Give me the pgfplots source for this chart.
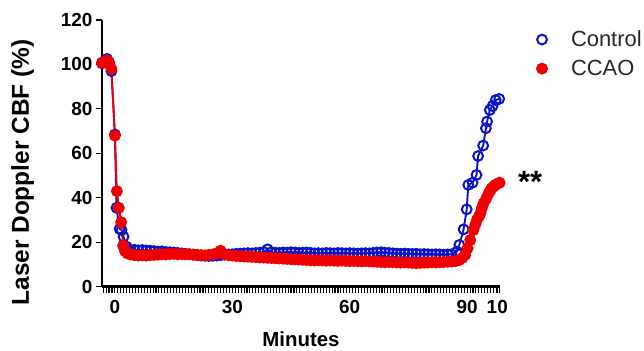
\documentclass[border=0pt]{standalone}
\usepackage{pgfplots}
\pgfplotsset{compat=1.18}
\usepackage{fontspec}
\setmainfont{Liberation Sans}
\definecolor{ctrlblue}{RGB}{10,20,200}
\definecolor{ccaored}{RGB}{240,0,0}
\begin{document}
\begin{tikzpicture}
\begin{axis}[
  scale only axis, width=398bp, height=266.7bp,
  xmin=-3.3, xmax=98.4, ymin=0, ymax=120,
  axis lines=left,
  axis line style={-, line width=2.5bp, black},
  clip=false,
  xtick={0,30,60,90,97.7}, xticklabels={0,30,60,90,10},
  minor xtick={-3,-2.25,...,98},
  ytick={0,20,...,120},
  xtick pos=left, ytick pos=left,
  tick align=outside,
  major tick length=6bp, minor tick length=6bp,
  tick style={black, line width=1.1bp},
  /pgf/number format/assume math mode=true,
  ticklabel style={font=\fontsize{19}{22}\selectfont\bfseries},
  xticklabel style={yshift=-4bp},
  xlabel={Minutes},
  xlabel style={font=\fontsize{20.5}{24}\selectfont\bfseries, at={(axis description cs:0.5,-0.198)}, anchor=center, inner sep=1bp},
  ylabel={Laser Doppler CBF (\%)},
  ylabel style={font=\fontsize{24.5}{28}\selectfont\bfseries, at={(axis description cs:-0.1997,0.428)}, anchor=center},
  legend style={draw=none, fill=none, at={(axis description cs:1.085,0.975)}, anchor=north west,
    font=\fontsize{22}{26}\selectfont, text=black!85, row sep=8bp,
    /tikz/every odd column/.append style={column sep=22bp}},
  legend cell align=left,
  legend image code/.code={\draw[#1] plot coordinates {(0.3cm,0cm)};},
]
\addplot[ctrlblue, line width=1.9bp, mark=o, mark size=4.9bp, mark options={line width=2bp}] coordinates {
(-3.3,100.5) (-2.6,101.5) (-2,102.5) (-1.5,101) (-0.9,97) (0,68.5) (0.4,35.5) (1.2,26) (1.7,25.5) (2.2,22.5) (3,18) (3.5,16.8)
(4,16.5) (5,16.6) (6,16.4) (7,16.5) (8,16.3) (9,16.2) (10,16.0) (11,15.8) (12,15.9) (13,15.6) (14,15.5) (15,15.4) (16,15.2) (17,15.0)
(18,14.8) (19,14.6) (20,14.4) (21,14.2) (22,14.0) (23,13.9) (24,13.8) (25,13.9) (26,14.0) (27,14.2) (28,14.4) (29,14.5) (30,14.6)
(31,14.8) (32,14.9) (33,15.0) (34,15.1) (35,15.0) (36,15.2) (37,15.3) (38,15.6) (39,16.8) (40,15.5) (41,15.3) (42,15.2) (43,15.4)
(44,15.3) (45,15.5) (46,15.4) (47,15.2) (48,15.3) (49,15.4) (50,15.2) (51,15.0) (52,15.1) (53,15.0) (54,15.2) (55,15.1) (56,15.0)
(57,15.2) (58,15.1) (59,15.0) (60,15.1) (61,15.0) (62,14.9) (63,15.0) (64,15.1) (65,15.0) (66,15.2) (67,15.4) (68,15.5) (69,15.3)
(70,15.2) (71,15.0) (72,14.9) (73,14.8) (74,14.9) (75,14.8) (76,14.7) (77,14.8) (78,14.6) (79,14.7) (80,14.6) (81,14.5) (82,14.6)
(83,14.5) (84,14.4) (85,14.5) (86,14.6) (87.4,15.8) (88,18.8) (89.1,25.8) (89.9,34.8) (90.3,45.8) (91.4,46.8) (92.4,50.3) (92.8,58.8)
(94.1,63.5) (94.8,71.3) (95.1,74.3) (95.8,79.5) (96.5,81.3) (97.3,84) (98.2,84.5)
};
\addlegendentry{Control}
\addplot[ccaored, line width=1.9bp, mark=*, mark size=5bp, mark options={fill=ccaored, draw=ccaored}] coordinates {
(-3.3,100.8) (-2.6,101) (-2,101.8) (-1.5,100.5) (-0.9,98) (0,68) (0.5,43) (1,35.5) (1.6,29) (2.1,18.5) (2.6,16) (3.2,15)
(4,14.5) (5,14.2) (6,14.0) (7,14.1) (8,14.0) (9,14.2) (10,14.3) (11,14.4) (12,14.6) (13,14.5) (14,14.7) (15,14.8) (16,14.6) (17,14.7)
(18,14.5) (19,14.6) (20,14.4) (21,14.3) (22,14.2) (23,14.1) (24,14.3) (25,14.5) (26,15.0) (27,16.2) (28,14.6) (29,14.2) (30,14.0)
(31,13.8) (32,13.7) (33,13.6) (34,13.5) (35,13.4) (36,13.3) (37,13.2) (38,13.1) (39,13.0) (40,12.9) (41,12.8) (42,12.7) (43,12.6)
(44,12.5) (45,12.4) (46,12.3) (47,12.2) (48,12.1) (49,12.0) (50,11.9) (51,11.8) (52,11.9) (53,11.8) (54,11.7) (55,11.8) (56,11.7)
(57,11.6) (58,11.7) (59,11.6) (60,11.5) (61,11.6) (62,11.5) (63,11.4) (64,11.5) (65,11.4) (66,11.3) (67,11.2) (68,11.1) (69,11.0)
(70,11.1) (71,11.0) (72,10.9) (73,10.8) (74,10.9) (75,10.8) (76,10.7) (77,10.6) (78,10.7) (79,10.8) (80,10.9) (81,11.0) (82,10.9)
(83,11.0) (84,11.1) (85,11.2) (86,11.3) (87,11.5) (88,12.0) (88.8,13.0) (89.5,14.3) (90.1,17.3) (90.8,21) (91.6,25.5) (92.1,28)
(92.5,30) (93,31.5) (93.4,33) (93.8,35.5) (94.2,37.5) (94.9,39.8) (95.5,42) (95.9,43.2) (96.3,44.3) (96.8,45.1) (97.2,45.8) (97.8,46.3) (98.3,46.8)
};
\addlegendentry{CCAO}
\node[font=\fontsize{31}{33}\selectfont\bfseries, anchor=base] at (axis cs:106.1,42.5) {**};
\end{axis}
\pgfresetboundingbox
\path[use as bounding box] ([shift={(-102bp,-64.3bp)}]current axis.south west) rectangle ([shift={(144bp,20bp)}]current axis.north east);
\end{tikzpicture}
\end{document}
